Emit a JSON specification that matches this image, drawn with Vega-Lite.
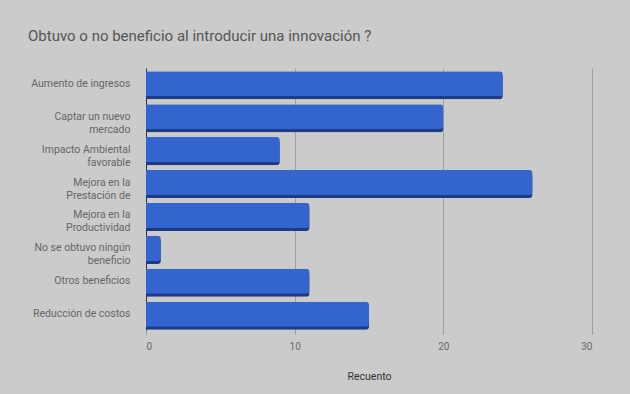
{
  "$schema": "https://vega.github.io/schema/vega-lite/v6.json",
  "width": 446,
  "height": 262,
  "autosize": "none",
  "padding": {"left": 146, "top": 68, "right": 38, "bottom": 64},
  "background": "#cbcbcb",
  "title": {
    "text": "Obtuvo o no beneficio al introducir una innovación ?",
    "anchor": "start",
    "frame": "group",
    "dx": -118,
    "offset": 24,
    "fontSize": 15,
    "fontWeight": "normal",
    "color": "#555555",
    "font": "Roboto"
  },
  "data": {
    "values": [
      {"beneficio": "Aumento de ingresos", "recuento": 24},
      {"beneficio": "Captar un nuevo mercado", "recuento": 20},
      {"beneficio": "Impacto Ambiental favorable", "recuento": 9},
      {"beneficio": "Mejora en la Prestación de", "recuento": 26},
      {"beneficio": "Mejora en la Productividad", "recuento": 11},
      {"beneficio": "No se obtuvo ningún beneficio", "recuento": 1},
      {"beneficio": "Otros beneficios", "recuento": 11},
      {"beneficio": "Reducción de costos", "recuento": 15}
    ]
  },
  "encoding": {
    "y": {
      "field": "beneficio",
      "type": "nominal",
      "sort": null,
      "scale": {"paddingInner": 0.24, "paddingOuter": 0.1},
      "axis": {
        "title": null,
        "domain": false,
        "ticks": false,
        "labelPadding": 16,
        "labelFontSize": 10.5,
        "labelColor": "#666666",
        "labelFont": "Roboto",
        "labelLineHeight": 13,
        "labelExpr": "datum.value == 'Captar un nuevo mercado' ? ['Captar un nuevo', 'mercado'] : datum.value == 'Impacto Ambiental favorable' ? ['Impacto Ambiental', 'favorable'] : datum.value == 'Mejora en la Prestación de' ? ['Mejora en la', 'Prestación de'] : datum.value == 'Mejora en la Productividad' ? ['Mejora en la', 'Productividad'] : datum.value == 'No se obtuvo ningún beneficio' ? ['No se obtuvo ningún', 'beneficio'] : datum.value"
      }
    },
    "x": {
      "field": "recuento",
      "type": "quantitative",
      "scale": {"domain": [0, 30]},
      "axis": {
        "title": "Recuento",
        "titleFontSize": 10.5,
        "titleFontWeight": "normal",
        "titleColor": "#333333",
        "titleFont": "Roboto",
        "titlePadding": 20,
        "values": [0, 10, 20, 30],
        "labelFontSize": 10,
        "labelColor": "#6a6a6a",
        "labelFont": "Roboto",
        "labelPadding": 7,
        "domain": false,
        "tickColor": "#999999",
        "tickSize": 4,
        "grid": true,
        "gridColor": {"condition": {"test": "datum.value === 0", "value": "#333333"}, "value": "#a0a0a0"}
      }
    }
  },
  "layer": [
    {
      "mark": {"type": "bar", "color": "#1d3a86", "yOffset": 3, "cornerRadiusEnd": 3}
    },
    {
      "mark": {"type": "bar", "color": "#3465cf", "cornerRadiusEnd": 3}
    }
  ],
  "config": {"view": {"stroke": null}}
}
